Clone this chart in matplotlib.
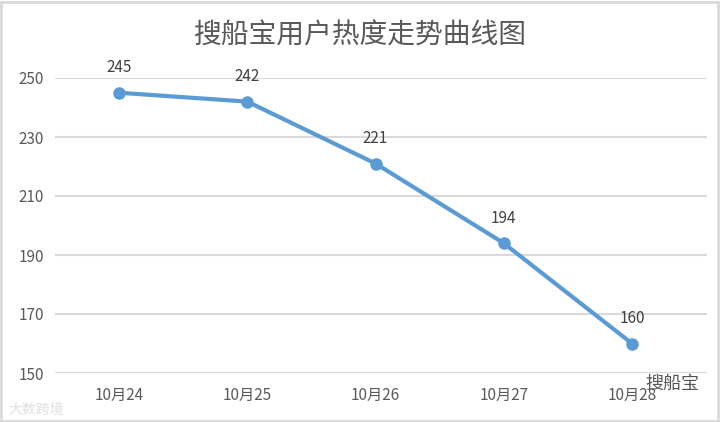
import matplotlib.pyplot as plt
from matplotlib.patches import Rectangle

plt.rcParams['font.family'] = ['Noto Sans CJK SC', 'DejaVu Sans']

## Data
## ====
dates = ['10月24', '10月25', '10月26', '10月27', '10月28']
heat = [245, 242, 221, 194, 160]
yticks = [150, 170, 190, 210, 230, 250]

fig = plt.figure(figsize=(7.21, 4.22), dpi=100)
ax = fig.add_axes([55 / 721, 49 / 422, 652 / 721, 295 / 422])

x = list(range(len(dates)))
ax.set_xlim(-0.5, 4.585)
ax.set_ylim(150, 250)
ax.set_yticks(yticks)
ax.set_xticks(x)
ax.set_xticklabels(dates)
ax.grid(axis='y', color='#d9d9d9', linewidth=1.5)
ax.set_axisbelow(True)
for s in ax.spines.values():
    s.set_visible(False)
ax.tick_params(length=0, colors='#595959', labelsize=11)
ax.tick_params(axis='x', pad=10)
ax.tick_params(axis='y', pad=8)

ax.plot(x, heat, color='#5b9bd5', linewidth=3, marker='o', markersize=8,
        clip_on=False, zorder=3)
for xi, v in zip(x, heat):
    ax.annotate(str(v), (xi, v), xytext=(0, 12), textcoords='offset points',
                ha='center', va='bottom', fontsize=11, color='#404040')

fig.text(0.5, 0.915, '搜船宝用户热度走势曲线图', ha='center', va='center',
         fontsize=20, color='#595959', fontweight='light')

# watermarks
fig.text(0.012, 0.03, '大数跨境', fontsize=10, color='#e0e0e0', ha='left', va='center')
fig.text(0.97, 0.09, '搜船宝', fontsize=13, color='#555555', ha='right', va='center')

# frame around the chart
fig.patches.append(Rectangle((0.002, 0.003), 0.994, 0.993, transform=fig.transFigure,
                             fill=False, edgecolor='#d9d9d9', linewidth=2))

fig.savefig('out.png', dpi=100)
